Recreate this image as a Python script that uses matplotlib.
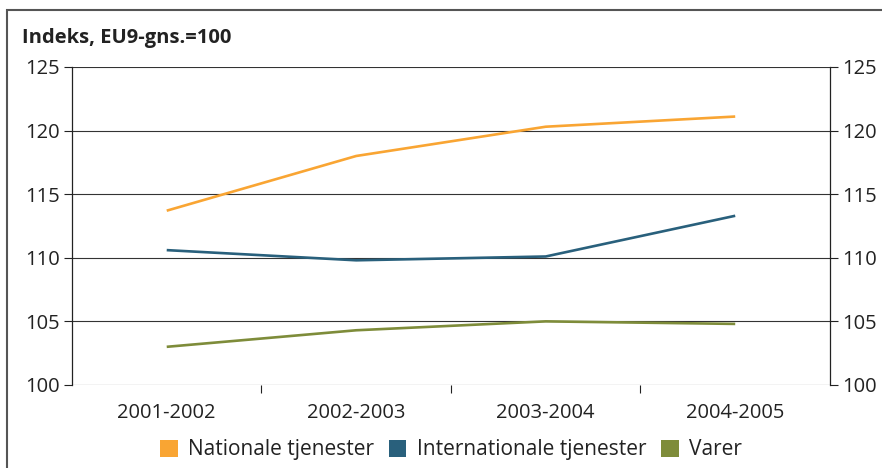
import matplotlib
matplotlib.use("Agg")
import matplotlib.pyplot as plt
from matplotlib.patches import Rectangle, Patch
from matplotlib.ticker import FixedLocator

plt.rcParams['font.family'] = ['Open Sans', 'DejaVu Sans']

# -------------------------------
# Data
# -------------------------------
periods = ["2001-2002", "2002-2003", "2003-2004", "2004-2005"]
nationale = [113.7, 118.0, 120.3, 121.1]
internationale = [110.6, 109.8, 110.1, 113.3]
varer = [103.0, 104.3, 105.0, 104.8]

series_names = ["Nationale tjenester", "Internationale tjenester", "Varer"]
series_colors = ["#F9A533", "#29607C", "#7E8C3A"]

y_ticks = [100, 105, 110, 115, 120, 125]

FS = 14.5
TXT = "#222222"

# -------------------------------
# Figure
# -------------------------------
fig = plt.figure(figsize=(8.82, 4.68), dpi=100)
ax = fig.add_axes([0.0816, 0.1774, 0.8594, 0.6796])

x = list(range(len(periods)))
for vals, name, col in zip([nationale, internationale, varer], series_names, series_colors):
    ax.plot(x, vals, color=col, lw=1.9, label=name, zorder=3, solid_capstyle="butt")

ax.set_xlim(-0.5, len(periods) - 0.5)
ax.set_ylim(100, 125)
ax.set_yticks(y_ticks)

# category labels centred, tick marks between categories
ax.set_xticks(x)
ax.set_xticklabels(periods)
ax.xaxis.set_minor_locator(FixedLocator([i + 0.5 for i in x[:-1]]))
ax.tick_params(axis="x", which="major", length=0, pad=13, labelsize=FS, colors=TXT)
ax.tick_params(axis="x", which="minor", length=6, width=0.8, direction="out", color=TXT)
ax.tick_params(axis="y", which="major", length=6, width=0.8, direction="out",
               labelsize=FS, colors=TXT, left=True, right=True,
               labelleft=True, labelright=True, pad=3)

for y in y_ticks:
    ax.axhline(y, color="#333333", lw=0.8, zorder=1)

for side in ["left", "right"]:
    ax.spines[side].set_color(TXT)
    ax.spines[side].set_linewidth(0.9)
for side in ["top", "bottom"]:
    ax.spines[side].set_visible(False)

# -------------------------------
# Title and legend
# -------------------------------
fig.text(22 / 882, 1 - 38 / 468, "Indeks, EU9-gns.=100", fontsize=FS,
         fontweight="bold", color=TXT, va="center", ha="left")

handles = [Patch(facecolor=c, edgecolor="none") for c in series_colors]
leg = ax.legend(handles, series_names, loc="upper center", bbox_to_anchor=(0.5, -0.145),
                ncol=3, frameon=False, fontsize=15, handlelength=0.85, handleheight=0.85,
                handletextpad=0.5, columnspacing=0.7, borderaxespad=0)
for t in leg.get_texts():
    t.set_color(TXT)

# outer frame
fig.patches.append(Rectangle((7 / 882, -0.1), 1.2, 1 - 10 / 468 + 0.1,
                             transform=fig.transFigure, fill=False,
                             edgecolor="#555555", lw=1.5))

fig.savefig("out.png", dpi=100)
